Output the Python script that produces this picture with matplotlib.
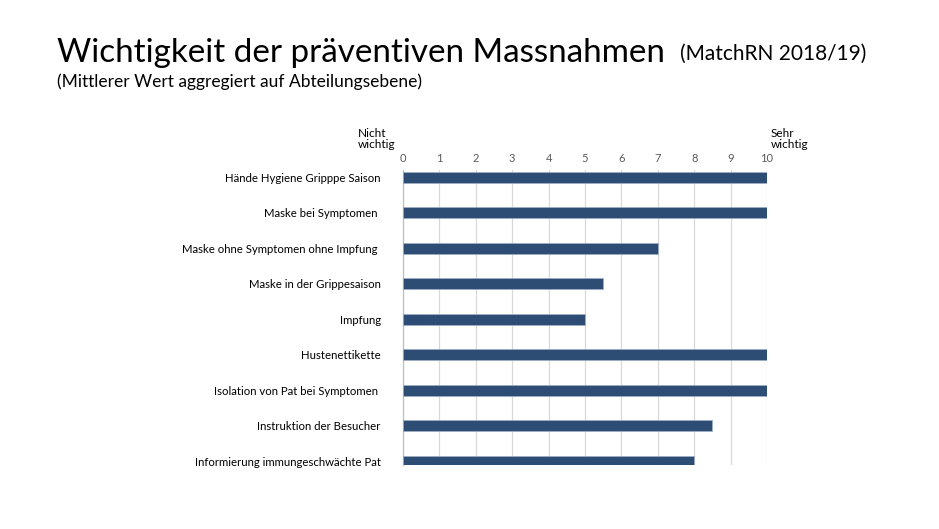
import matplotlib
matplotlib.use("Agg")
import matplotlib.pyplot as plt

categories = [
    "Hände Hygiene Gripppe Saison",
    "Maske bei Symptomen ",
    "Maske ohne Symptomen ohne Impfung ",
    "Maske in der Grippesaison",
    "Impfung",
    "Hustenettikette",
    "Isolation von Pat bei Symptomen ",
    "Instruktion der Besucher",
    "Informierung immungeschwächte Pat",
]
values = [10, 10, 7, 5.5, 5, 10, 10, 8.5, 8]
xticks = list(range(0, 11))

plt.rcParams['font.family'] = ['Lato', 'DejaVu Sans']

fig = plt.figure(figsize=(9.39, 5.29), dpi=100)
ax = fig.add_axes([403/939, 1-465/529, (767-403)/939, (465-170)/529])

ypos = list(range(len(categories)))
ax.barh(ypos, values, height=0.31, color="#2E4D75", edgecolor="#9FB0C8", linewidth=0.5, zorder=3)
ax.set_xlim(0, 10)
ax.set_ylim(8.1, -0.2)
ax.set_xticks(xticks)
ax.set_xticklabels([str(t) for t in xticks], fontsize=8, color="#595959")
ax.xaxis.tick_top()
ax.tick_params(axis='x', length=0, pad=4)
ax.set_yticks(ypos)
ax.set_yticklabels(categories, fontsize=8.2, color="#000000")
ax.tick_params(axis='y', length=0, pad=16)
ax.grid(axis='x', color="#D9D9D9", linewidth=0.9, zorder=0)
for s in ['top', 'right', 'bottom']:
    ax.spines[s].set_visible(False)
ax.spines['left'].set_color("#BFBFBF")
ax.spines['left'].set_linewidth(0.9)

fig.text(57/939, 1-62/529, "Wichtigkeit der präventiven Massnahmen", fontsize=23.9, ha='left', va='baseline')
fig.text(680/939, 1-60/529, "(MatchRN 2018/19)", fontsize=15, ha='left', va='baseline')
fig.text(57/939, 1-87/529, "(Mittlerer Wert aggregiert auf Abteilungsebene)", fontsize=12.5, ha='left', va='baseline')
fig.text(358/939, 1-150/529, "Nicht\nwichtig", fontsize=8.5, ha='left', va='bottom', linespacing=1.0)
fig.text(771/939, 1-150/529, "Sehr\nwichtig", fontsize=8.5, ha='left', va='bottom', linespacing=1.0)

fig.savefig("out.png", dpi=100)
